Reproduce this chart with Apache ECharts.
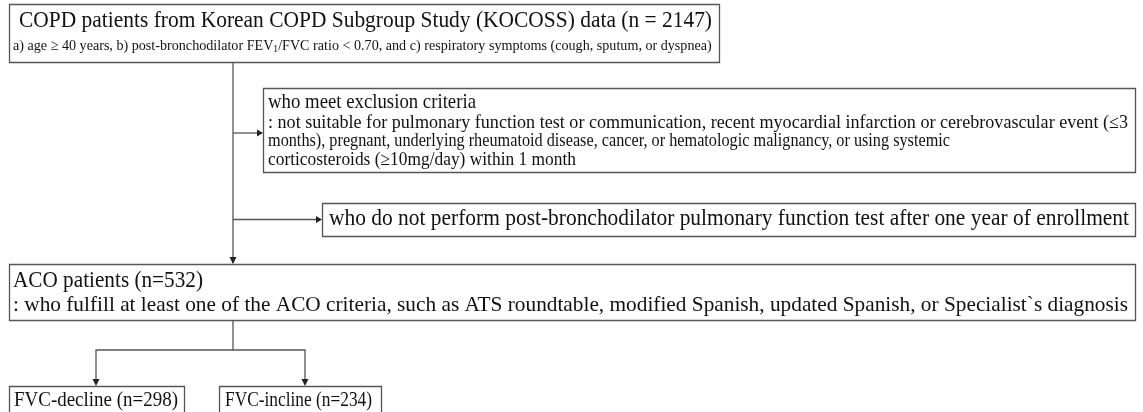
<!DOCTYPE html>
<html><head><meta charset="utf-8">
<script src="https://cdn.jsdelivr.net/npm/echarts@6/dist/echarts.min.js"></script>
<style>html,body{margin:0;padding:0;background:#fff}#c{width:1143px;height:412px}</style>
</head><body><div id="c"></div>
<script>
// ---- data ----
const totalN = 2147;
const acoN = 532;
const groupNames = ['FVC-decline', 'FVC-incline'];
const groupN = [298, 234];
const sourceTitle = 'COPD patients from Korean COPD Subgroup Study (KOCOSS) data';
const inclusionText = 'a) age {r|≥} 40 years, b) post-bronchodilator FEV{s|1}/FVC ratio < 0.70, and c) respiratory symptoms (cough, sputum, or dyspnea)';
const exclusionTitle = 'who meet exclusion criteria';
const exclusionLines = [
  ': not suitable for pulmonary function test or communication, recent myocardial infarction or cerebrovascular event (≤3',
  'months), pregnant, underlying rheumatoid disease, cancer, or hematologic malignancy, or using systemic',
  'corticosteroids (≥10mg/day) within 1 month'
];
const lostText = 'who do not perform post-bronchodilator pulmonary function test after one year of enrollment';
const acoTitle = 'ACO patients';
const acoText = ': who fulfill at least one of the ACO criteria, such as ATS roundtable, modified Spanish, updated Spanish, or Specialist`s diagnosis';

// ---- layout ----
const FAMILY = '"Liberation Serif", "Times New Roman", serif';
const LINE = '#555';
const SY = 1.1;
const boxes = {
  src:  {x: 9,   y: 4,   w: 710, h: 58},
  exc:  {x: 263, y: 88,  w: 872, h: 84},
  lost: {x: 322, y: 203, w: 813, h: 33},
  aco:  {x: 9,   y: 264, w: 1126, h: 56},
  g0:   {x: 9,   y: 386, w: 175, h: 40},
  g1:   {x: 219, y: 386, w: 162, h: 40}
};
const spineX = 233;

const measureCtx = document.createElement('canvas').getContext('2d');
function measure(str, size) {
  measureCtx.font = size + 'px ' + FAMILY;
  return measureCtx.measureText(str).width;
}

const els = [];
function rect(b) {
  els.push({type: 'rect', shape: {x: b.x + 0.5, y: b.y + 0.5, width: b.w, height: b.h},
    style: {fill: '#fff', stroke: LINE, lineWidth: 1.3}, z: 1});
}
function line(pts) {
  els.push({type: 'polyline', shape: {points: pts}, style: {stroke: LINE, lineWidth: 1.3, fill: null}, z: 2});
}
function arrowRight(x, y) {
  els.push({type: 'polygon', shape: {points: [[x, y], [x - 6, y - 3.5], [x - 6, y + 3.5]]}, style: {fill: '#222'}, z: 3});
}
function arrowDown(x, y) {
  els.push({type: 'polygon', shape: {points: [[x, y], [x - 3.5, y - 7], [x + 3.5, y - 7]]}, style: {fill: '#222'}, z: 3});
}
// text fitted horizontally to [x, endX]
function text(str, x, y, size, endX, rich, plain) {
  const w = measure(plain || str, size);
  const sx = endX ? (endX - x) / w : 1;
  els.push({type: 'text', x: x, y: y, scaleX: sx, scaleY: SY, originX: 0, originY: 0, z: 4,
    style: {text: str, fill: '#111', fontFamily: FAMILY, fontSize: size,
      verticalAlign: 'middle', align: 'left', rich: rich || undefined}});
}

Object.values(boxes).forEach(rect);

// connectors
line([[spineX, boxes.src.y + boxes.src.h], [spineX, boxes.aco.y - 1]]);
arrowDown(spineX, boxes.aco.y);
const excY = 133;
line([[spineX, excY], [boxes.exc.x - 2, excY]]);
arrowRight(boxes.exc.x, excY);
const lostY = boxes.lost.y + boxes.lost.h / 2;
line([[spineX, lostY], [boxes.lost.x - 2, lostY]]);
arrowRight(boxes.lost.x, lostY);
const splitY = 350;
const g0x = 96, g1x = 305;
line([[spineX, boxes.aco.y + boxes.aco.h], [spineX, splitY]]);
line([[g0x, boxes.g0.y - 2], [g0x, splitY], [g1x, splitY], [g1x, boxes.g1.y - 2]]);
arrowDown(g0x, boxes.g0.y);
arrowDown(g1x, boxes.g1.y);

// texts
text(sourceTitle + ' (n = ' + totalN + ')', 19, 21, 21.5, 712);
const inclPlain = inclusionText.replace('{r|≥}', '≥').replace('{s|1}', '1');
text(inclusionText, 13, 46, 14, 714, {
  r: {fontFamily: FAMILY, fontSize: 14},
  s: {fontFamily: FAMILY, fontSize: 9.5, padding: [6, 0, 0, 0]}
}, inclPlain);
text(exclusionTitle, 268, 103, 18.5, 476);
const excEnds = [1128, 950, 576];
exclusionLines.forEach((l, i) => text(l, 268, 123 + i * 18.5, 16.5, excEnds[i]));
text(lostText, 329, 219, 20.5, 1129);
text(acoTitle + ' (n=' + acoN + ')', 13, 281, 20.5, 203);
text(acoText, 13, 305, 19.5, 1128);
text(groupNames[0] + ' (n=' + groupN[0] + ')', 14, 400, 19.5, 178);
text(groupNames[1] + ' (n=' + groupN[1] + ')', 225, 400, 19.5, 372);

const chart = echarts.init(document.getElementById('c'), null, {renderer: 'canvas'});
chart.setOption({animation: false, backgroundColor: '#fff', graphic: {elements: els}});
</script></body></html>
